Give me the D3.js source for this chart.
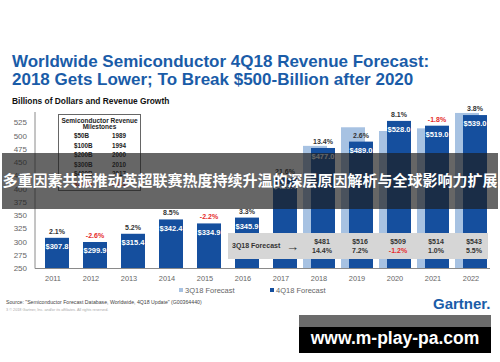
<!DOCTYPE html>
<html>
<head>
<meta charset="utf-8">
<script src="https://d3js.org/d3.v7.min.js"></script>
<style>
  body { margin: 0; background: #fff; }
  svg { display: block; font-family: "Liberation Sans", Arial, sans-serif; }
</style>
</head>
<body>
<div id="chart"></div>
<script>
// chart data
const years = ["2011","2012","2013","2014","2015","2016","2017","2018","2019","2020","2021","2022"];
const revenue4Q18 = [307.8, 299.9, 315.4, 342.4, 334.9, 345.9, 420.4, 477.0, 489.0, 528.0, 519.0, 539.0];
const growth4Q18 = ["2.1%","-2.6%","5.2%","8.5%","-2.2%","3.3%","21.6%","13.4%","2.6%","8.1%","-1.8%","3.8%"];
const forecastYears = ["2018","2019","2020","2021","2022"];
const revenue3Q18 = [481, 516, 509, 514, 543];
const growth3Q18 = ["14.4%","7.2%","-1.2%","1.0%","5.5%"];
const yTicks = [250,275,300,325,350,375,400,425,450,475,500,525];
const milestones = [["$50B","1989"],["$100B","1994"],["$200B","2000"],["$300B","2010"],["$400B","2017"],["$500B","2021"]];

const W = 500, H = 362;
const DARK = "#154f9e", LIGHT = "#a7c2e2", RED = "#e52b2b";

const svg = d3.select("#chart").append("svg")
    .attr("width", W).attr("height", H);

svg.append("rect").attr("width", W).attr("height", H).attr("fill", "#fff");

// title
const title = svg.append("g").attr("fill", "#1a5ca8")
    .attr("font-weight", "bold").attr("font-size", 17);
title.append("text").attr("x", 12).attr("y", 67)
    .text("Worldwide Semiconductor 4Q18 Revenue Forecast:");
title.append("text").attr("x", 12).attr("y", 85)
    .text("2018 Gets Lower; To Break $500-Billion after 2020");

svg.append("text").attr("x", 12).attr("y", 104)
    .attr("font-weight", "bold").attr("font-size", 8.4).attr("fill", "#111")
    .text("Billions of Dollars and Revenue Growth");

// scales
const x = d3.scaleBand().domain(years).range([34, 490]).padding(0);
const y = d3.scaleLinear().domain([250, 525]).range([268.5, 122.5]);
const cx = d => x(d) + x.bandwidth() / 2;

// axes
svg.append("line").attr("x1", 35).attr("x2", 35).attr("y1", 112).attr("y2", y(250))
    .attr("stroke", "#8a8a8a");
svg.append("g").selectAll("text").data(yTicks).join("text")
    .attr("x", 27).attr("y", d => y(d)).attr("dy", "0.35em")
    .attr("text-anchor", "end").attr("font-size", 8).attr("fill", "#666")
    .text(d => d);

svg.append("g").selectAll("text").data(years).join("text")
    .attr("x", d => cx(d)).attr("y", 278).attr("dy", "0.35em")
    .attr("text-anchor", "middle").attr("font-size", 7.4).attr("fill", "#666")
    .text(d => d);

// milestones box
const box = svg.append("g");
box.append("rect").attr("x", 58.5).attr("y", 114.5).attr("width", 82).attr("height", 76)
    .attr("fill", "#fff").attr("stroke", "#666");
box.append("text").attr("x", 99.5).attr("y", 122.5).attr("text-anchor", "middle")
    .attr("font-weight", "bold").attr("font-size", 6.5).attr("fill", "#222")
    .text("Semiconductor Revenue");
box.append("text").attr("x", 99.5).attr("y", 129).attr("text-anchor", "middle")
    .attr("font-weight", "bold").attr("font-size", 6.5).attr("fill", "#222")
    .text("Milestones");
milestones.forEach((m, i) => {
    const col = i === 5 ? RED : "#222";
    box.append("text").attr("x", 74).attr("y", 138 + i * 9.6)
        .attr("font-weight", "bold").attr("font-size", 6.3).attr("fill", col).text(m[0]);
    box.append("text").attr("x", 112).attr("y", 138 + i * 9.6)
        .attr("font-weight", "bold").attr("font-size", 6.3).attr("fill", col).text(m[1]);
});

// 3Q18 bars (behind)
svg.append("g").selectAll("rect").data(forecastYears).join("rect")
    .attr("x", d => cx(d) - 16).attr("width", 24)
    .attr("y", (d, i) => y(revenue3Q18[i]))
    .attr("height", (d, i) => y(250) - y(revenue3Q18[i]))
    .attr("fill", LIGHT);

// 4Q18 bars
svg.append("g").selectAll("rect").data(years).join("rect")
    .attr("x", d => cx(d) - 8).attr("width", 24)
    .attr("y", (d, i) => y(revenue4Q18[i]))
    .attr("height", (d, i) => y(250) - y(revenue4Q18[i]))
    .attr("fill", DARK);

// value labels
svg.append("g").selectAll("text").data(years).join("text")
    .attr("x", d => cx(d) + 4).attr("y", (d, i) => y(revenue4Q18[i]) + 8.5)
    .attr("dy", "0.35em").attr("text-anchor", "middle")
    .attr("font-weight", "bold").attr("font-size", 7.5).attr("fill", "#fff")
    .text((d, i) => "$" + revenue4Q18[i].toFixed(1));

svg.append("g").selectAll("text").data(years).join("text")
    .attr("x", d => cx(d) + 4).attr("y", (d, i) => y(revenue4Q18[i]) - 6.5)
    .attr("dy", "0.35em").attr("text-anchor", "middle")
    .attr("font-weight", "bold").attr("font-size", 7)
    .attr("fill", (d, i) => growth4Q18[i].startsWith("-") ? RED : "#333")
    .text((d, i) => growth4Q18[i]);

// 3Q18 forecast strip
const strip = svg.append("g");
strip.append("rect").attr("x", 228).attr("y", 233).attr("width", 260).attr("height", 26)
    .attr("fill", "#d6d6d6");
strip.append("text").attr("x", 232).attr("y", 246).attr("dy", "0.35em")
    .attr("font-weight", "bold").attr("font-size", 7).attr("fill", "#333")
    .text("3Q18 Forecast");
strip.append("text").attr("x", 286).attr("y", 246).attr("dy", "0.35em")
    .attr("font-size", 13).attr("fill", "#333").text("\u2192");
strip.selectAll(".fv").data(forecastYears).join("text").attr("class", "fv")
    .attr("x", d => cx(d) + 3).attr("y", 242).attr("dy", "0.35em")
    .attr("text-anchor", "middle").attr("font-weight", "bold").attr("font-size", 7)
    .attr("fill", "#333")
    .text((d, i) => "$" + revenue3Q18[i]);
strip.selectAll(".fg").data(forecastYears).join("text").attr("class", "fg")
    .attr("x", d => cx(d) + 3).attr("y", 250.5).attr("dy", "0.35em")
    .attr("text-anchor", "middle").attr("font-weight", "bold").attr("font-size", 7)
    .attr("fill", (d, i) => growth3Q18[i].startsWith("-") ? RED : "#333")
    .text((d, i) => growth3Q18[i]);

// baseline
svg.append("line").attr("x1", 35).attr("x2", 490).attr("y1", y(250)).attr("y2", y(250))
    .attr("stroke", "#8a8a8a");

// legend
const legend = svg.append("g").attr("font-size", 7.5).attr("fill", "#666");
legend.append("rect").attr("x", 179).attr("y", 288).attr("width", 4).attr("height", 4).attr("fill", LIGHT);
legend.append("text").attr("x", 185).attr("y", 290).attr("dy", "0.35em").text("3Q18 Forecast");
legend.append("rect").attr("x", 270).attr("y", 288).attr("width", 4).attr("height", 4).attr("fill", DARK);
legend.append("text").attr("x", 276).attr("y", 290).attr("dy", "0.35em").text("4Q18 Forecast");

// source & footer
svg.append("text").attr("x", 6).attr("y", 304).attr("font-size", 5.2).attr("fill", "#444")
    .text("Source: \"Semiconductor Forecast Database, Worldwide, 4Q18 Update\" (G00364440)");
svg.append("text").attr("x", 6).attr("y", 311).attr("font-size", 3.8).attr("fill", "#aaa")
    .text("3     \u00a9 2018 Gartner, Inc. and/or its affiliates. All rights reserved.");
svg.append("text").attr("x", 433).attr("y", 309).attr("font-weight", "bold")
    .attr("font-size", 15).attr("fill", "#1a5ca8").text("Gartner.");

// overlay banner
svg.append("rect").attr("x", 2).attr("y", 153).attr("width", 496).attr("height", 56)
    .attr("fill", "rgba(30,30,30,0.68)");
svg.append("text").attr("x", 250).attr("y", 181).attr("dy", "0.35em")
    .attr("text-anchor", "middle")
    .style("font-family", "'Noto Sans CJK SC', sans-serif")
    .attr("font-weight", "bold").attr("font-size", 15).attr("fill", "#fff")
    .text("多重因素共振推动英超联赛热度持续升温的深层原因解析与全球影响力扩展");

// watermark
svg.append("rect").attr("x", 299).attr("y", 315).attr("width", 192).attr("height", 12).attr("fill", "#6b6b6b");
svg.append("rect").attr("x", 299).attr("y", 327).attr("width", 192).attr("height", 26).attr("fill", "#000");
svg.append("text").attr("x", 395).attr("y", 338).attr("dy", "0.35em").attr("text-anchor", "middle")
    .attr("font-weight", "bold").attr("font-size", 17.5).attr("fill", "#fff")
    .text("www.m-play-pa.com");
</script>
</body>
</html>
